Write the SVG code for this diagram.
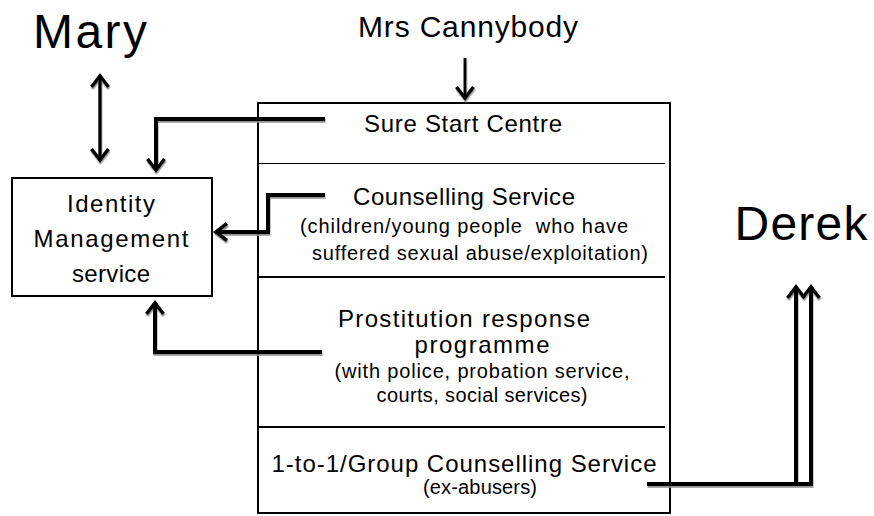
<svg xmlns="http://www.w3.org/2000/svg" width="874" height="516" viewBox="0 0 874 516">
  <style>
    text { font-family: "Liberation Sans", Arial, sans-serif; fill: #000; text-anchor: middle; white-space: pre; }
    .big { font-size: 48px; }
    .top { font-size: 30px; }
    .idm { font-size: 24px; }
    .ttl { font-size: 24px; }
    .sub { font-size: 20px; }
    .box { fill: #fff; stroke: #000; stroke-width: 2; }
    .div { stroke: #000; stroke-width: 2; }
    .thin { stroke: #000; stroke-width: 1.2; }
    .con { fill: none; stroke: #000; stroke-width: 4; stroke-linejoin: miter; }
  </style>
  <defs>
    <marker id="arr" viewBox="0 0 24 24" refX="20" refY="12" markerWidth="24" markerHeight="24" markerUnits="userSpaceOnUse" orient="auto-start-reverse">
      <path d="M8 3.5 L19 12 L8 20.5" fill="none" stroke="#000" stroke-width="3.6" stroke-linecap="butt" stroke-linejoin="miter"/>
    </marker>
    <filter id="sh" x="-5%" y="-5%" width="110%" height="120%">
      <feDropShadow dx="0.5" dy="1.8" stdDeviation="0.4" flood-color="#888" flood-opacity="0.9"/>
    </filter>
  </defs>

  <g id="mary">
    <text class="big" x="90" y="48" textLength="114">Mary</text>
  </g>
  <g id="mrs-cannybody">
    <text class="top" x="468" y="37" textLength="220">Mrs Cannybody</text>
  </g>
  <g id="derek">
    <text class="big" x="801" y="240" textLength="133">Derek</text>
  </g>

  <g id="identity-management">
    <rect class="box" x="12" y="178" width="200" height="118"/>
    <text class="idm" x="111" y="212" textLength="88">Identity</text>
    <text class="idm" x="111" y="247" textLength="155">Management</text>
    <text class="idm" x="111" y="282" textLength="78">service</text>
  </g>

  <g id="services">
    <rect class="box" x="258" y="103" width="412" height="410"/>
    <line class="thin" x1="258" y1="163.5" x2="665" y2="163.5"/>
    <line class="div" x1="258" y1="277" x2="665" y2="277"/>
    <line class="div" x1="258" y1="427" x2="665" y2="427"/>
  </g>

  <g id="sure-start">
    <text class="ttl" x="463" y="132" textLength="198">Sure Start Centre</text>
  </g>
  <g id="counselling">
    <text class="ttl" x="464" y="205" textLength="222">Counselling Service</text>
    <text class="sub" x="464" y="233" textLength="328">(children/young people  who have</text>
    <text class="sub" x="480" y="260" textLength="336">suffered sexual abuse/exploitation)</text>
  </g>
  <g id="prostitution">
    <text class="ttl" x="464" y="327" textLength="252">Prostitution response</text>
    <text class="ttl" x="482" y="353" textLength="135">programme</text>
    <text class="sub" x="482" y="378" textLength="295">(with police, probation service,</text>
    <text class="sub" x="482" y="402" textLength="211">courts, social services)</text>
  </g>
  <g id="group-counselling">
    <text class="ttl" x="464" y="472" textLength="385">1-to-1/Group Counselling Service</text>
    <text class="sub" x="480" y="494" textLength="114">(ex-abusers)</text>
  </g>

  <g id="connectors" filter="url(#sh)">
    <path class="con" style="stroke-width:3" d="M465 58 V99" marker-end="url(#arr)"/>
    <path class="con" style="stroke-width:3.5" d="M100 75 V161" marker-start="url(#arr)" marker-end="url(#arr)"/>
    <path class="con" d="M325 119 H156 V171" marker-end="url(#arr)"/>
    <path class="con" d="M325 195 H268 V232 H215" marker-end="url(#arr)"/>
    <path class="con" d="M322 352 H155 V302" marker-end="url(#arr)"/>
    <path class="con" d="M647 484 H811 V286" marker-end="url(#arr)"/>
    <path class="con" d="M796 484 V286" marker-end="url(#arr)"/>
  </g>
</svg>
